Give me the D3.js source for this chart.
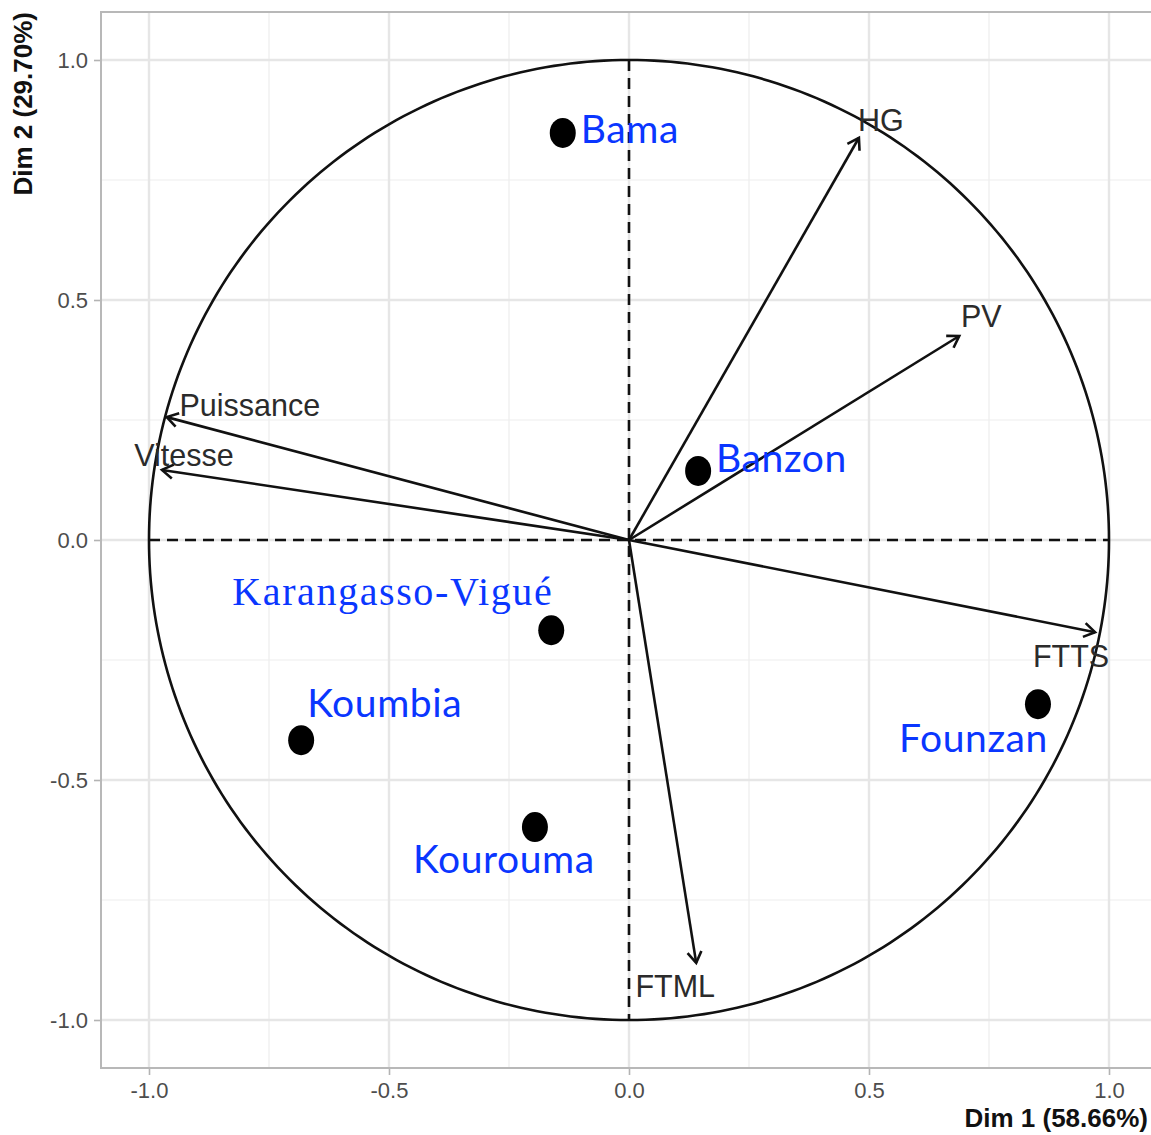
<!DOCTYPE html>
<html>
<head>
<meta charset="utf-8">
<script src="https://cdn.jsdelivr.net/npm/d3@7"></script>
<style>
  body { margin: 0; background: #fff; }
  svg { display: block; }
</style>
</head>
<body>
<div id="container"></div>
<script>
// variables (arrows) : coordinates on Dim 1 / Dim 2
const VARS = ["HG", "PV", "Puissance", "Vitesse", "FTTS", "FTML"];
const VAR_DIM1 = [0.479, 0.688, -0.963, -0.973, 0.971, 0.140];
const VAR_DIM2 = [0.838, 0.425, 0.256, 0.146, -0.192, -0.881];

// localities (black dots, blue names)
const SITES = ["Bama", "Banzon", "Karangasso-Vigué", "Koumbia", "Kourouma", "Founzan"];
const SITE_DIM1 = [-0.138, 0.144, -0.162, -0.683, -0.196, 0.852];
const SITE_DIM2 = [0.848, 0.144, -0.188, -0.417, -0.598, -0.342];

const TICKS = [-1.0, -0.5, 0.0, 0.5, 1.0];
const MINOR = [-0.75, -0.25, 0.25, 0.75];
const XTITLE = "Dim 1 (58.66%)";
const YTITLE = "Dim 2 (29.70%)";

// label placement (px offsets from the point, anchor)
const VAR_LABEL = {
  "HG": [22, -18, "middle"],
  "PV": [22, -20, "middle"],
  "Puissance": [83, -12, "middle"],
  "Vitesse": [22, -15, "middle"],
  "FTTS": [-24, 24, "middle"],
  "FTML": [-21, 23, "middle"]
};
const SITE_LABEL = {
  "Bama": [18, 10, "start"],
  "Banzon": [18, 1, "start"],
  "Karangasso-Vigué": [2, -25, "end"],
  "Koumbia": [6, -23, "start"],
  "Kourouma": [-31, 46, "middle"],
  "Founzan": [10, 48, "end"]
};

const W = 1151, H = 1135;
const margin = {left: 101, top: 12};
const side = 1056;
const INK = "#111";
const LW = 2.6;

let svg = d3.select("#container").append("svg")
  .attr("width", W).attr("height", H);

let x = d3.scaleLinear().domain([-1.1, 1.1]).range([margin.left, margin.left + side]);
let y = d3.scaleLinear().domain([-1.1, 1.1]).range([margin.top + side, margin.top]);

const fmt = d => d3.format(".1f")(d).replace("−", "-");

// grid
let grid = svg.append("g");
grid.selectAll(".minx").data(MINOR).enter().append("line")
  .attr("x1", d => x(d)).attr("x2", d => x(d))
  .attr("y1", margin.top).attr("y2", margin.top + side)
  .attr("stroke", "#ededed").attr("stroke-width", 1.2);
grid.selectAll(".miny").data(MINOR).enter().append("line")
  .attr("y1", d => y(d)).attr("y2", d => y(d))
  .attr("x1", margin.left).attr("x2", margin.left + side)
  .attr("stroke", "#ededed").attr("stroke-width", 1.2);
grid.selectAll(".majx").data(TICKS).enter().append("line")
  .attr("x1", d => x(d)).attr("x2", d => x(d))
  .attr("y1", margin.top).attr("y2", margin.top + side)
  .attr("stroke", "#e6e6e6").attr("stroke-width", 2.4);
grid.selectAll(".majy").data(TICKS).enter().append("line")
  .attr("y1", d => y(d)).attr("y2", d => y(d))
  .attr("x1", margin.left).attr("x2", margin.left + side)
  .attr("stroke", "#e6e6e6").attr("stroke-width", 2.4);

// axes
let xAxis = svg.append("g")
  .attr("transform", `translate(0,${margin.top + side})`)
  .call(d3.axisBottom(x).tickValues(TICKS).tickFormat(fmt).tickSize(7).tickPadding(7));
let yAxis = svg.append("g")
  .attr("transform", `translate(${margin.left},0)`)
  .call(d3.axisLeft(y).tickValues(TICKS).tickFormat(fmt).tickSize(7).tickPadding(6));
[xAxis, yAxis].forEach(a => {
  a.select(".domain").remove();
  a.selectAll(".tick line").attr("stroke", "#b3b3b3").attr("stroke-width", 1.6);
  a.selectAll(".tick text")
    .attr("fill", "#4d4d4d")
    .style("font-family", "'Liberation Sans', Arial, sans-serif")
    .style("font-size", "22px");
});

// panel border
svg.append("rect")
  .attr("x", margin.left).attr("y", margin.top)
  .attr("width", side).attr("height", side)
  .attr("fill", "none").attr("stroke", "#b8b8b8").attr("stroke-width", 2);

// axis titles
svg.append("text")
  .attr("x", 1148).attr("y", 1127)
  .attr("text-anchor", "end")
  .style("font-family", "'Liberation Sans', Arial, sans-serif")
  .style("font-weight", "bold").style("font-size", "26px")
  .attr("fill", "#111")
  .text(XTITLE);
svg.append("text")
  .attr("transform", "translate(32,12) rotate(-90)")
  .attr("text-anchor", "end")
  .style("font-family", "'Liberation Sans', Arial, sans-serif")
  .style("font-weight", "bold").style("font-size", "26px")
  .attr("fill", "#111")
  .text(YTITLE);

// correlation circle
let circ = d3.range(0, 361).map(a => [Math.cos(a * Math.PI / 180), Math.sin(a * Math.PI / 180)]);
svg.append("path")
  .datum(circ)
  .attr("d", d3.line().x(d => x(d[0])).y(d => y(d[1])))
  .attr("fill", "none").attr("stroke", INK).attr("stroke-width", LW);

// dashed axes
svg.append("line")
  .attr("x1", x(-1)).attr("x2", x(1)).attr("y1", y(0)).attr("y2", y(0))
  .attr("stroke", INK).attr("stroke-width", LW).attr("stroke-dasharray", "11,7");
svg.append("line")
  .attr("x1", x(0)).attr("x2", x(0)).attr("y1", y(1)).attr("y2", y(-1))
  .attr("stroke", INK).attr("stroke-width", LW).attr("stroke-dasharray", "11,7");

// arrows
svg.append("defs").append("marker")
  .attr("id", "arrowhead")
  .attr("viewBox", "-14 -10 20 20")
  .attr("refX", 0).attr("refY", 0)
  .attr("markerWidth", 20).attr("markerHeight", 20)
  .attr("markerUnits", "userSpaceOnUse")
  .attr("orient", "auto")
  .append("path")
  .attr("d", "M-11,-7 L0,0 L-11,7")
  .attr("fill", "none").attr("stroke", INK).attr("stroke-width", LW);

let vars = VARS.map((name, i) => ({name: name, d1: VAR_DIM1[i], d2: VAR_DIM2[i]}));

svg.append("g").selectAll("line").data(vars).enter().append("line")
  .attr("x1", x(0)).attr("y1", y(0))
  .attr("x2", d => x(d.d1)).attr("y2", d => y(d.d2))
  .attr("stroke", INK).attr("stroke-width", LW)
  .attr("marker-end", "url(#arrowhead)");

svg.append("g").selectAll("text").data(vars).enter().append("text")
  .attr("x", d => x(d.d1) + VAR_LABEL[d.name][0])
  .attr("y", d => y(d.d2) + VAR_LABEL[d.name][1])
  .attr("text-anchor", d => VAR_LABEL[d.name][2])
  .attr("dominant-baseline", "central")
  .style("font-family", "'Liberation Sans', Arial, sans-serif")
  .style("font-size", "30.5px")
  .attr("fill", "#2b2b2b")
  .text(d => d.name);

// sites
let sites = SITES.map((name, i) => ({name: name, d1: SITE_DIM1[i], d2: SITE_DIM2[i]}));

svg.append("g").selectAll("ellipse").data(sites).enter().append("ellipse")
  .attr("cx", d => x(d.d1)).attr("cy", d => y(d.d2))
  .attr("rx", 13).attr("ry", 15)
  .attr("fill", "#000");

svg.append("g").selectAll("text").data(sites).enter().append("text")
  .attr("x", d => x(d.d1) + SITE_LABEL[d.name][0])
  .attr("y", d => y(d.d2) + SITE_LABEL[d.name][1])
  .attr("text-anchor", d => SITE_LABEL[d.name][2])
  .style("font-family", d => d.name == "Karangasso-Vigué" ? "'Liberation Serif', 'Times New Roman', serif" : "Lato, 'Open Sans', sans-serif")
  .style("font-size", d => d.name == "Karangasso-Vigué" ? "40px" : "39px")
  .style("letter-spacing", d => d.name == "Karangasso-Vigué" ? "1.6px" : "0.6px")
  .attr("fill", "#0a36ff")
  .text(d => d.name);
</script>
</body>
</html>
